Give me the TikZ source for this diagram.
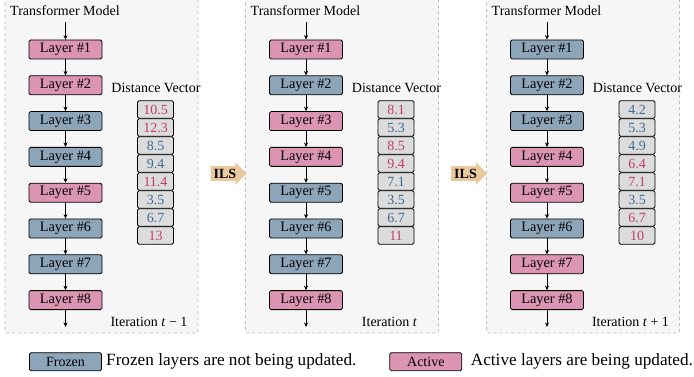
\documentclass[tikz,border=0pt]{standalone}
\usepackage{fontspec}
\setmainfont{Liberation Serif}
\usetikzlibrary{shapes.arrows,arrows.meta}
\definecolor{pinkf}{HTML}{DB94B1}
\definecolor{bluef}{HTML}{8CA5B9}
\definecolor{pinkt}{HTML}{C23B6E}
\definecolor{bluet}{HTML}{3D6B94}
\definecolor{cellf}{HTML}{DCDCDC}
\definecolor{panelf}{HTML}{F6F6F6}
\definecolor{paneld}{HTML}{BBBBBB}
\definecolor{ilsf}{HTML}{E9C99D}
\tikzset{
  lay/.style={draw=black, line width=0.8pt, rounded corners=1.5pt, minimum width=73pt, minimum height=19pt, inner sep=0pt, font=\fontsize{14.3}{14}\selectfont},
  P/.style={lay, fill=pinkf},
  B/.style={lay, fill=bluef},
  cell/.style={draw=black, line width=0.8pt, rounded corners=1.5pt, fill=cellf, minimum width=36pt, minimum height=17.5pt, inner sep=0pt, font=\fontsize{14}{14}\selectfont},
  cP/.style={cell, text=pinkt},
  cB/.style={cell, text=bluet},
  panel/.style={draw=paneld, fill=panelf, dashed, line width=0.6pt, rounded corners=2pt},
  lbl/.style={font=\fontsize{14}{14}\selectfont, inner sep=0pt},
  leg/.style={font=\fontsize{17.2}{17}\selectfont, inner sep=0pt},
  conn/.style={-{Stealth[length=4.5pt,width=4pt]}, line width=0.7pt},
  ils/.style={single arrow, fill=ilsf, single arrow head extend=4pt, minimum height=36pt, inner xsep=2pt, inner ysep=2.5pt, font=\fontsize{14}{14}\selectfont\bfseries},
}
\begin{document}
\begin{tikzpicture}[x=1pt,y=-1pt]
\useasboundingbox (0,0) rectangle (694,377);
\clip (0,0) rectangle (694,377);
\foreach \L/\pn/\lays/\vals/\it in {
  5/a/{P,P,B,B,P,B,B,P}/{P/10.5,P/12.3,B/8.5,B/9.4,P/11.4,B/3.5,B/6.7,P/13}/{Iteration \textit{t} − 1},
  245.5/b/{P,B,P,P,B,B,B,P}/{P/8.1,B/5.3,P/8.5,P/9.4,B/7.1,B/3.5,B/6.7,P/11}/{Iteration \textit{t}},
  486.5/c/{B,B,B,P,P,B,P,P}/{B/4.2,B/5.3,B/4.9,P/6.4,P/7.1,B/3.5,P/6.7,P/10}/{Iteration \textit{t} + 1}} {
  \draw[panel] (\L,-5) rectangle ++(193,338);
  \node[lbl] (\pn title) at (\L+60,11) {Transformer Model};
  \coordinate (\pn top) at (\L+60.5,22);
  \coordinate (\pn bot) at (\L+60.5,327);
  \foreach \s [count=\i] in \lays {
    \node[\s] (\pn L\i) at (\L+60.5,{49.5+35.8*(\i-1)}) {Layer \#\i};
  }
  \draw[conn] (\pn top) -- (\pn L1);
  \foreach \i [evaluate=\i as \j using int(\i+1)] in {1,...,7} {
    \draw[conn] (\pn L\i) -- (\pn L\j);
  }
  \draw[conn] (\pn L8) -- (\pn bot);
  \node[lbl] (\pn dv) at (\L+151,88) {Distance Vector};
  \foreach \s/\v [count=\i] in \vals {
    \node[c\s] (\pn V\i) at (\L+150.5,{109.5+18*(\i-1)}) {\v};
  }
  \node[lbl] (\pn it) at (\L+144,322) {\it};
}
\node[ils] (ils1) at (225,173.5) {ILS\hspace{6pt}};
\node[ils] (ils2) at (465.5,173.5) {ILS\hspace{6pt}};
% legend
\node[B, minimum width=72pt, minimum height=18pt, font=\fontsize{14}{14}\selectfont] (fz) at (65.5,361.7) {Frozen};
\node[leg, anchor=west] (fzt) at (106,361.5) {Frozen layers are not being updated.};
\node[P, minimum width=72pt, minimum height=18pt, font=\fontsize{14}{14}\selectfont] (ac) at (425.8,361.7) {Active};
\node[leg, anchor=west] (act) at (470.7,361.5) {Active layers are being updated.};
\end{tikzpicture}
\end{document}
